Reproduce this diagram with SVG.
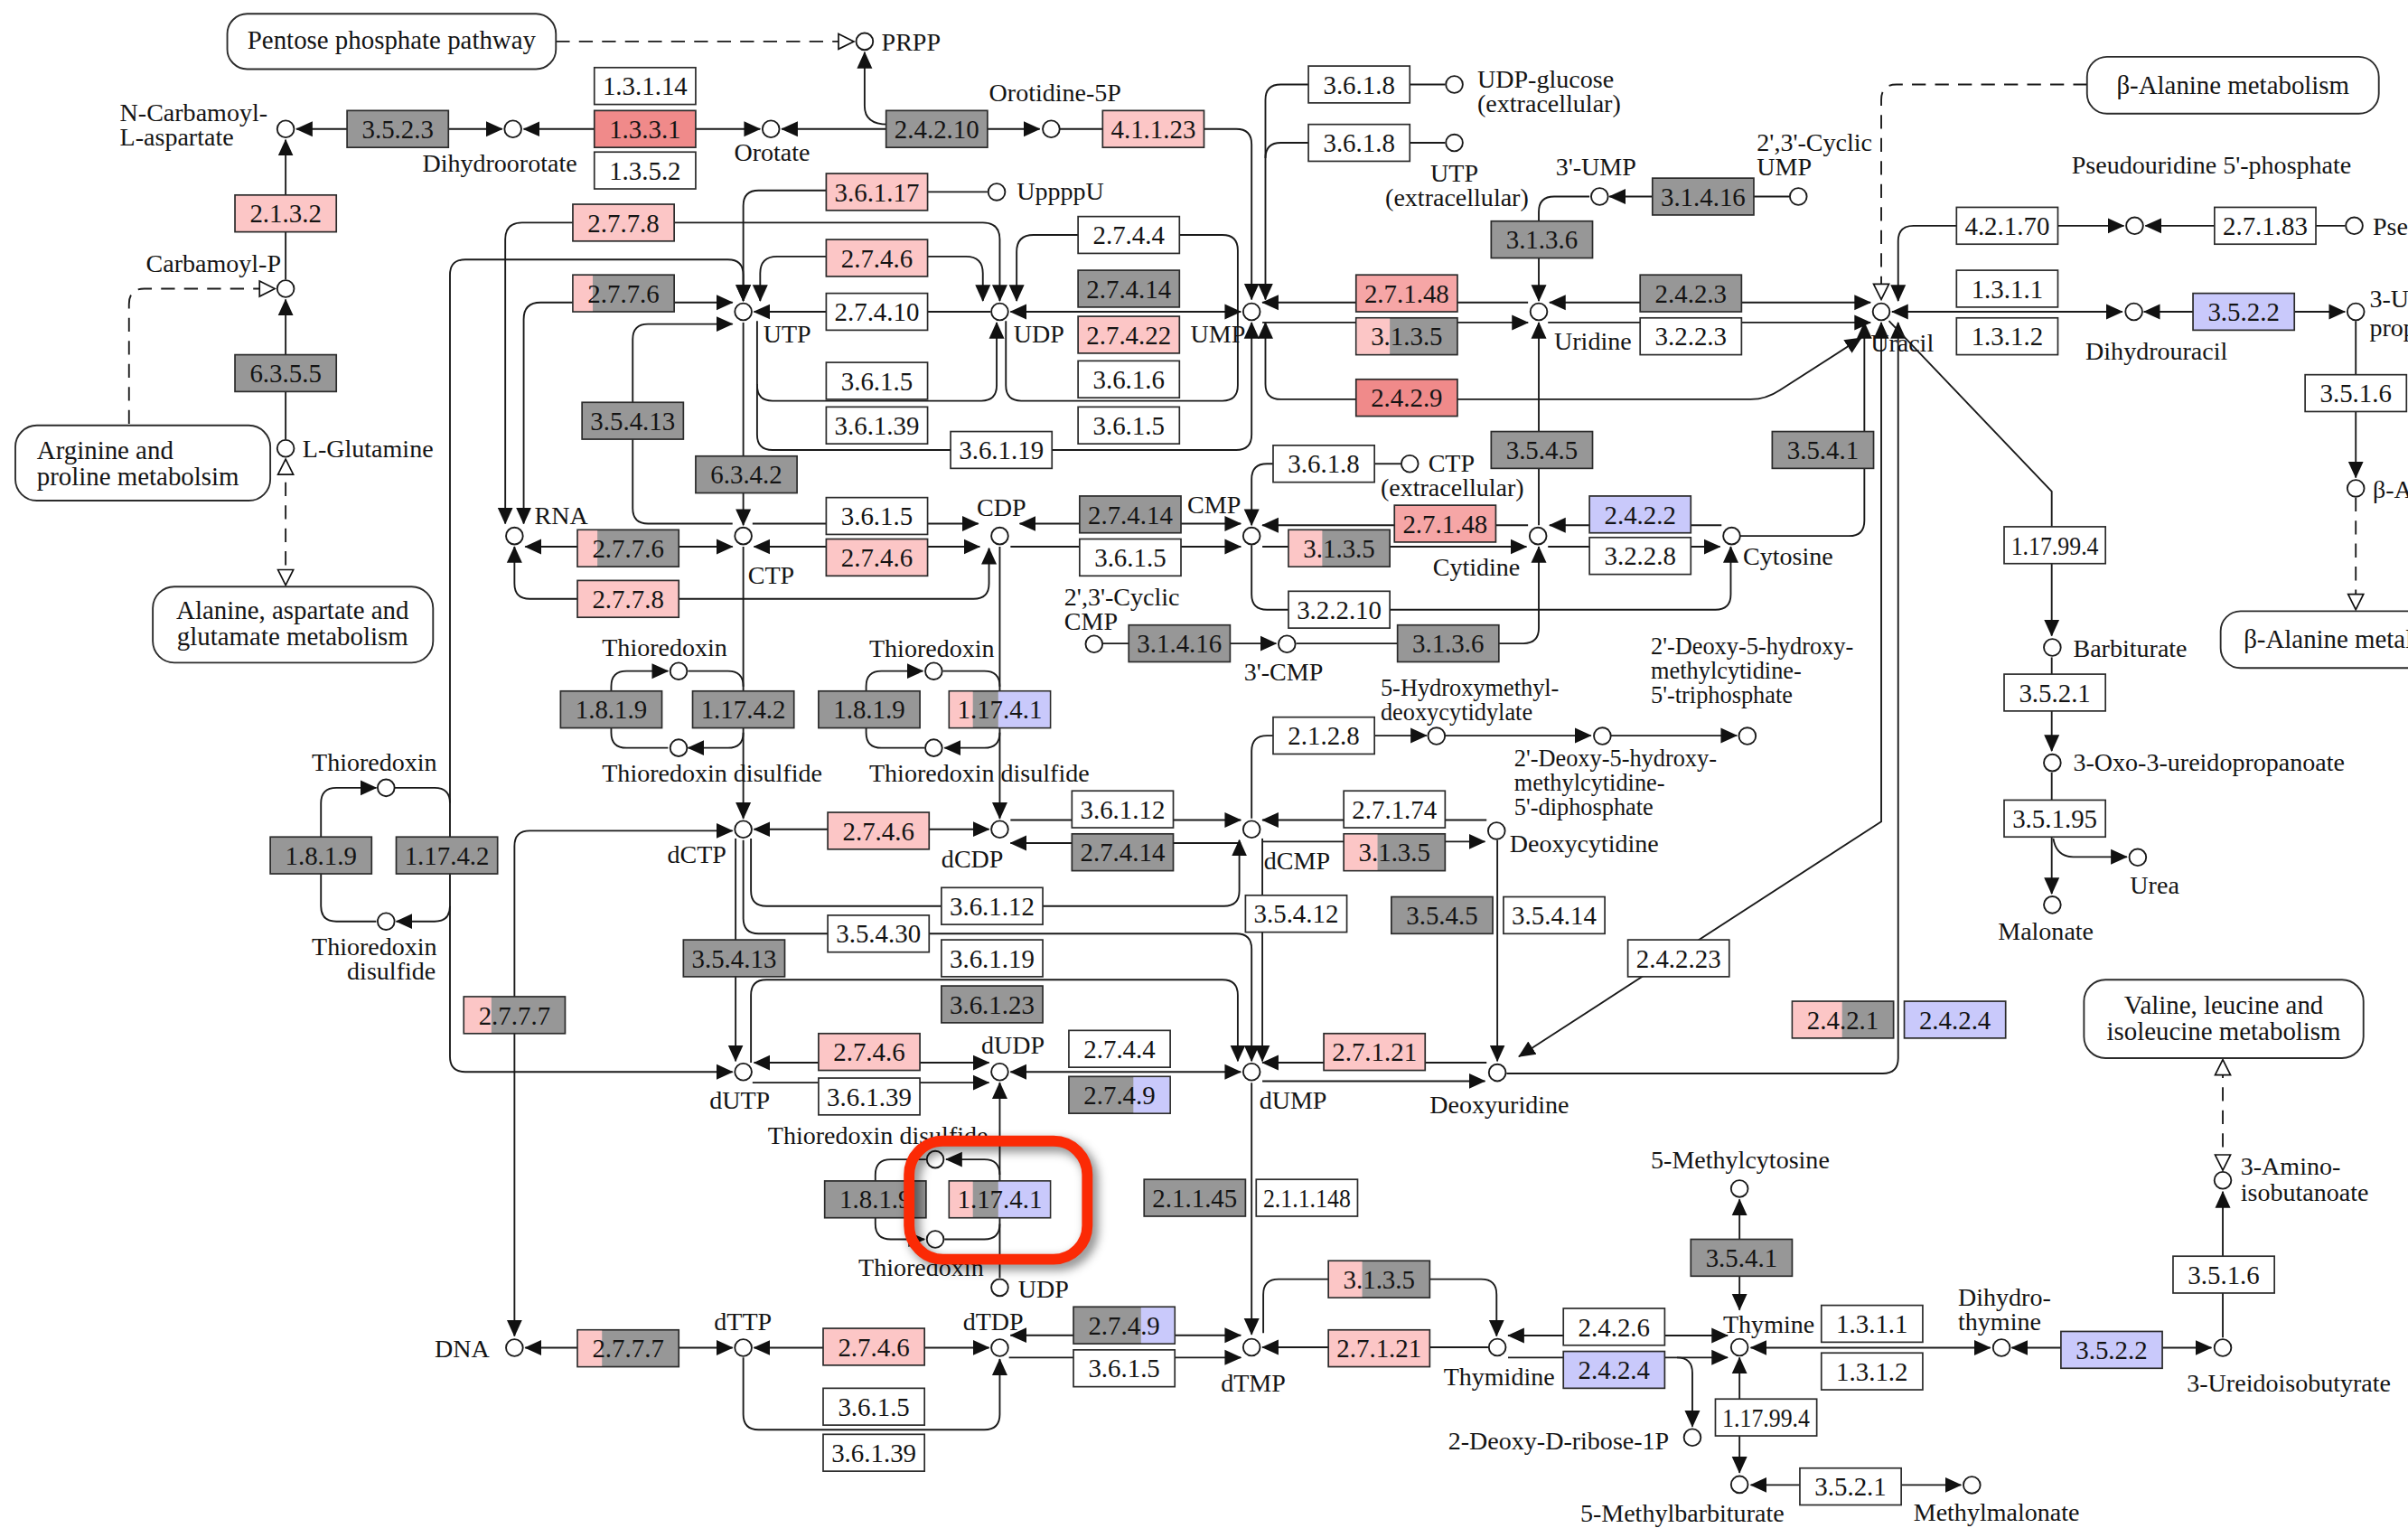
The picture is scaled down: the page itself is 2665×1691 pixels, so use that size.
<svg xmlns="http://www.w3.org/2000/svg" width="2665" height="1691" viewBox="0 0 2665 1691">
<defs>
<style>
.ln{fill:none;stroke:#1a1a1a;stroke-width:1.1}
.dl{fill:none;stroke:#1a1a1a;stroke-width:1.1;stroke-dasharray:9 6}
.enz rect{stroke:#2b2b2b;stroke-width:1}
.enz rect.s{stroke:none}
.w{fill:#fff}.g{fill:#979797}.p{fill:#fcc6c6}.r{fill:#f08a8a}.rp{fill:#f6a6a6}.b{fill:#c9c9fb}
text{font-family:"Liberation Serif","Times New Roman",serif;fill:#141414}
.enz text{font-size:17px;text-anchor:middle}
.cpd circle{fill:#fff;stroke:#1a1a1a;stroke-width:1.1}
.cpd text{font-size:16.5px}
.cpd text.t{font-size:15.5px}
.map rect{fill:#fff;stroke:#2b2b2b;stroke-width:1.1}
.map text{font-size:17px;text-anchor:middle}
.m{text-anchor:middle}.e{text-anchor:end}
</style>
<marker id="a" viewBox="0 0 11 11" refX="10.5" refY="5.5" markerWidth="11" markerHeight="11" markerUnits="userSpaceOnUse" orient="auto-start-reverse"><path d="M0,0.5 L11,5.5 L0,10.5z" fill="#111"/></marker>
<marker id="o" viewBox="0 0 12 12" refX="11" refY="6" markerWidth="12" markerHeight="12" markerUnits="userSpaceOnUse" orient="auto-start-reverse"><path d="M1,1 L11,6 L1,11z" fill="#fff" stroke="#111" stroke-width="1"/></marker>
<filter id="sh" x="-30%" y="-30%" width="160%" height="160%"><feGaussianBlur stdDeviation="3"/></filter>
</defs>
<rect x="0" y="0" width="2665" height="1691" fill="#fff"/>
<g transform="scale(1.69962,1.6995)">

<g id="connectors">
<path class="ln" d="M226,84 H193" marker-end="url(#a)"/>
<path class="ln" d="M292,84 H327" marker-end="url(#a)"/>
<path class="ln" d="M387,84 H341" marker-end="url(#a)"/>
<path class="ln" d="M453,84 H495" marker-end="url(#a)"/>
<path class="ln" d="M577,84 H509" marker-end="url(#a)"/>
<path class="ln" d="M643,84 H677" marker-end="url(#a)"/>
<path class="ln" d="M578,81 Q563,81 563,69 V34" marker-end="url(#a)"/>
<path class="ln" d="M690,84 H718"/>
<path class="ln" d="M784,84 H805 Q815,84 815,94 V195" marker-end="url(#a)"/>
<path class="dl" d="M362,27 H556" marker-end="url(#o)"/>
<path class="ln" d="M852,55 H834 Q824,55 824,65 V195" marker-end="url(#a)"/>
<path class="ln" d="M852,93 H834 Q824,93 824,103"/>
<path class="ln" d="M918,55 H941"/>
<path class="ln" d="M918,93 H941"/>
<path class="ln" d="M186,182 V91" marker-end="url(#a)"/>
<path class="ln" d="M186,286 V195" marker-end="url(#a)"/>
<path class="dl" d="M84,276 V198 Q84,188 94,188 H179" marker-end="url(#o)"/>
<path class="dl" d="M186,299 V381" marker-start="url(#o)" marker-end="url(#o)"/>
<path class="ln" d="M643,125 H604"/>
<path class="ln" d="M538,124 H494 Q484,124 484,134 V196" marker-end="url(#a)"/>
<path class="ln" d="M495,196 V178 Q495,167 506,167 H629 Q640,167 640,178 V196" marker-start="url(#a)" marker-end="url(#a)"/>
<path class="ln" d="M329,341 V156 Q329,145 340,145 H640 Q651,145 651,156 V196" marker-start="url(#a)" marker-end="url(#a)"/>
<path class="ln" d="M341,341 V208 Q341,197 352,197 H477" marker-start="url(#a)" marker-end="url(#a)"/>
<path class="ln" d="M477,341 H422 Q412,341 412,331 V221 Q412,211 422,211 H477" marker-end="url(#a)"/>
<path class="ln" d="M645,203 H491" marker-end="url(#a)"/>
<path class="ln" d="M484,210 V342" marker-end="url(#a)"/>
<path class="ln" d="M493,209 V251 Q493,261 503,261 H639 Q649,261 649,251 V210" marker-end="url(#a)"/>
<path class="ln" d="M493,250 V283 Q493,293 503,293 H805 Q815,293 815,283 V210" marker-end="url(#a)"/>
<path class="ln" d="M662,196 V164 Q662,153 673,153 H796 Q806,153 806,163 V251 Q806,261 796,261 H665 Q655,261 655,251 V209" marker-start="url(#a)"/>
<path class="ln" d="M658,203 H808" marker-start="url(#a)" marker-end="url(#a)"/>
<path class="ln" d="M824,210 V250 Q824,260 834,260 H1140 Q1150,260 1159,254 L1212,220" marker-start="url(#a)" marker-end="url(#a)"/>
<path class="ln" d="M995,197 H822" marker-end="url(#a)"/>
<path class="ln" d="M822,210 H995" marker-end="url(#a)"/>
<path class="ln" d="M1009,197 H1218" marker-start="url(#a)" marker-end="url(#a)"/>
<path class="ln" d="M1008,210 H1218" marker-end="url(#a)"/>
<path class="ln" d="M1035,128 H1012 Q1002,128 1002,138 V196" marker-end="url(#a)"/>
<path class="ln" d="M1165,128 H1048" marker-end="url(#a)"/>
<path class="ln" d="M1002,342 V210" marker-end="url(#a)"/>
<path class="ln" d="M1133,349 H1204 Q1214,349 1214,339 V210" marker-end="url(#a)"/>
<path class="ln" d="M1225,210 V535 L989,688" marker-start="url(#a)" marker-end="url(#a)"/>
<path class="ln" d="M1236,210 V689 Q1236,699 1226,699 H981" marker-start="url(#a)"/>
<path class="ln" d="M1232,203 H1382" marker-start="url(#a)" marker-end="url(#a)"/>
<path class="ln" d="M1428,203 H1396" marker-end="url(#a)"/>
<path class="ln" d="M1494,203 H1527" marker-end="url(#a)"/>
<path class="ln" d="M1534,209 V311" marker-end="url(#a)"/>
<path class="dl" d="M1534,324 V397" marker-end="url(#o)"/>
<path class="dl" d="M1359,55 H1235 Q1225,55 1225,65 V195" marker-end="url(#o)"/>
<path class="ln" d="M1383,147 H1246 Q1236,147 1236,157 V196" marker-start="url(#a)" marker-end="url(#a)"/>
<path class="ln" d="M1527,147 H1397" marker-end="url(#a)"/>
<path class="ln" d="M1230,209 L1336,320 V414" marker-end="url(#a)"/>
<path class="ln" d="M1336,428 V489" marker-end="url(#a)"/>
<path class="ln" d="M1336,503 V582" marker-end="url(#a)"/>
<path class="ln" d="M1337,546 Q1339,558 1350,558 H1385" marker-end="url(#a)"/>
<path class="ln" d="M342,356 H477" marker-start="url(#a)" marker-end="url(#a)"/>
<path class="ln" d="M335,356 V380 Q335,390 345,390 H634 Q644,390 644,380 V357" marker-start="url(#a)" marker-end="url(#a)"/>
<path class="ln" d="M490,341 H637" marker-end="url(#a)"/>
<path class="ln" d="M491,356 H638" marker-start="url(#a)" marker-end="url(#a)"/>
<path class="ln" d="M664,341 H808" marker-start="url(#a)" marker-end="url(#a)"/>
<path class="ln" d="M658,356 H808" marker-end="url(#a)"/>
<path class="ln" d="M829,302 H825 Q815,302 815,312 V342" marker-end="url(#a)"/>
<path class="ln" d="M895,302 H912"/>
<path class="ln" d="M995,342 H822" marker-end="url(#a)"/>
<path class="ln" d="M822,356 H994" marker-end="url(#a)"/>
<path class="ln" d="M1121,342 H1009" marker-end="url(#a)"/>
<path class="ln" d="M1008,356 H1120" marker-end="url(#a)"/>
<path class="ln" d="M815,355 V387 Q815,397 825,397 H1117 Q1127,397 1127,387 V356" marker-end="url(#a)"/>
<path class="ln" d="M718,419 H831" marker-end="url(#a)"/>
<path class="ln" d="M844,419 H992 Q1002,419 1002,409 V356" marker-end="url(#a)"/>
<path class="ln" d="M484,356 V533" marker-end="url(#a)"/>
<path class="ln" d="M651,356 V533" marker-end="url(#a)"/>
<path class="ln" d="M448,437 H474 Q484,437 484,447"/>
<path class="ln" d="M484,477 Q484,487 474,487 H448" marker-end="url(#a)"/>
<path class="ln" d="M435,487 H408 Q398,487 398,477 V447 Q398,437 408,437 H435" marker-end="url(#a)"/>
<path class="ln" d="M614,437 H641 Q651,437 651,447"/>
<path class="ln" d="M651,477 Q651,487 641,487 H615" marker-end="url(#a)"/>
<path class="ln" d="M602,487 H574 Q564,487 564,477 V447 Q564,437 574,437 H601" marker-end="url(#a)"/>
<path class="ln" d="M257,513 H283 Q293,513 293,523"/>
<path class="ln" d="M293,590 Q293,600 283,600 H258" marker-end="url(#a)"/>
<path class="ln" d="M245,600 H219 Q209,600 209,590 V523 Q209,513 219,513 H245" marker-end="url(#a)"/>
<path class="ln" d="M651,765 Q651,755 641,755 H616" marker-end="url(#a)"/>
<path class="ln" d="M615,807 H641 Q651,807 651,797"/>
<path class="ln" d="M603,755 H580 Q570,755 570,765 V797 Q570,807 580,807 H602" marker-end="url(#a)"/>
<path class="ln" d="M491,540 H644" marker-start="url(#a)" marker-end="url(#a)"/>
<path class="ln" d="M658,534 H808" marker-end="url(#a)"/>
<path class="ln" d="M808,549 H658" marker-end="url(#a)"/>
<path class="ln" d="M968,534 H822" marker-end="url(#a)"/>
<path class="ln" d="M822,548 H967" marker-end="url(#a)"/>
<path class="ln" d="M815,533 V489 Q815,479 825,479 H929" marker-end="url(#a)"/>
<path class="ln" d="M941,479 H1036" marker-end="url(#a)"/>
<path class="ln" d="M1049,479 H1131" marker-end="url(#a)"/>
<path class="ln" d="M975,547 V691" marker-end="url(#a)"/>
<path class="ln" d="M489,546 V580 Q489,590 499,590 H797 Q807,590 807,580 V547" marker-end="url(#a)"/>
<path class="ln" d="M484,547 V598 Q484,608 494,608 H805 Q815,608 815,618 V691" marker-end="url(#a)"/>
<path class="ln" d="M822,546 V691" marker-end="url(#a)"/>
<path class="ln" d="M479,546 V691" marker-end="url(#a)"/>
<path class="ln" d="M489,692 V648 Q489,638 499,638 H796 Q806,638 806,648 V691" marker-end="url(#a)"/>
<path class="ln" d="M484,196 V179 Q484,169 474,169 H303 Q293,169 293,179 V688 Q293,698 303,698 H477" marker-start="url(#a)" marker-end="url(#a)"/>
<path class="ln" d="M477,541 H345 Q335,541 335,551 V870" marker-start="url(#a)" marker-end="url(#a)"/>
<path class="ln" d="M342,877.6 H477" marker-start="url(#a)" marker-end="url(#a)"/>
<path class="ln" d="M491,692 H644" marker-start="url(#a)" marker-end="url(#a)"/>
<path class="ln" d="M490,705 H644" marker-end="url(#a)"/>
<path class="ln" d="M658,698 H808" marker-start="url(#a)" marker-end="url(#a)"/>
<path class="ln" d="M968,692 H822" marker-end="url(#a)"/>
<path class="ln" d="M822,704 H967" marker-end="url(#a)"/>
<path class="ln" d="M651,832 V705" marker-end="url(#a)"/>
<path class="ln" d="M815,705 V869" marker-end="url(#a)"/>
<path class="ln" d="M491,877.6 H644" marker-start="url(#a)" marker-end="url(#a)"/>
<path class="ln" d="M484,884 V921 Q484,931 494,931 H641 Q651,931 651,921 V885" marker-end="url(#a)"/>
<path class="ln" d="M658,869.5 H808" marker-start="url(#a)" marker-end="url(#a)"/>
<path class="ln" d="M657,884 H808" marker-end="url(#a)"/>
<path class="ln" d="M969,877.3 H822" marker-end="url(#a)"/>
<path class="ln" d="M822.6,868 V843 Q822.6,833 832.6,833 H964.5 Q974.5,833 974.5,843 V870" marker-end="url(#a)"/>
<path class="ln" d="M982,869.7 H1125" marker-start="url(#a)" marker-end="url(#a)"/>
<path class="ln" d="M982,884 H1125" marker-end="url(#a)"/>
<path class="ln" d="M1092,884 Q1102,884 1102,894 V929" marker-end="url(#a)"/>
<path class="ln" d="M1132.7,853 V781" marker-start="url(#a)" marker-end="url(#a)"/>
<path class="ln" d="M1132.7,884 V959" marker-start="url(#a)" marker-end="url(#a)"/>
<path class="ln" d="M1140,967 H1277" marker-start="url(#a)" marker-end="url(#a)"/>
<path class="ln" d="M1140,877.6 H1296" marker-start="url(#a)" marker-end="url(#a)"/>
<path class="ln" d="M1342,877.6 H1310" marker-end="url(#a)"/>
<path class="ln" d="M1408,877.6 H1440" marker-end="url(#a)"/>
<path class="ln" d="M1447.4,871 V776" marker-end="url(#a)"/>
<path class="dl" d="M1447.4,762 V690" marker-start="url(#o)" marker-end="url(#o)"/>
</g>

<g id="maps" class="map">
<g id="map_pentose"><rect x="148" y="9" width="214" height="36" rx="13"/><text x="255" y="32">Pentose phosphate pathway</text></g>
<g id="map_balanine1"><rect x="1359" y="37" width="190" height="37" rx="13"/><text x="1454" y="61">β-Alanine metabolism</text></g>
<g id="map_arginine"><rect x="10" y="277" width="166" height="49" rx="14"/><text x="24" y="299" style="text-anchor:start">Arginine and</text><text x="24" y="316" style="text-anchor:start">proline metabolsim</text></g>
<g id="map_alanine"><rect x="99.5" y="382" width="182.5" height="49.5" rx="14"/><text x="190.5" y="403">Alanine, aspartate and</text><text x="190.5" y="420">glutamate metabolism</text></g>
<g id="map_balanine2"><rect x="1446" y="398" width="140" height="37" rx="13"/><text x="1461" y="422" style="text-anchor:start">β-Alanine metal</text></g>
<g id="map_valine"><rect x="1357" y="638" width="182" height="51" rx="14"/><text x="1448" y="660">Valine, leucine and</text><text x="1448" y="677">isoleucine metabolism</text></g>
</g>

<g id="enzymes" class="enz">
<g id="e01"><rect class="g" x="226" y="72" width="66" height="24"/><text x="259" y="90">3.5.2.3</text></g>
<g id="e02"><rect class="w" x="387" y="44" width="66" height="24"/><text x="420" y="62">1.3.1.14</text></g>
<g id="e03"><rect class="r" x="387" y="72" width="66" height="24"/><text x="420" y="90">1.3.3.1</text></g>
<g id="e04"><rect class="w" x="387" y="99" width="66" height="24"/><text x="420" y="117">1.3.5.2</text></g>
<g id="e05"><rect class="g" x="577" y="72" width="66" height="24"/><text x="610" y="90">2.4.2.10</text></g>
<g id="e06"><rect class="p" x="718" y="72" width="66" height="24"/><text x="751" y="90">4.1.1.23</text></g>
<g id="e07"><rect class="p" x="153" y="127" width="66" height="24"/><text x="186" y="145">2.1.3.2</text></g>
<g id="e08"><rect class="g" x="153" y="231" width="66" height="24"/><text x="186" y="249">6.3.5.5</text></g>
<g id="e09"><rect class="p" x="538" y="113" width="66" height="24"/><text x="571" y="131">3.6.1.17</text></g>
<g id="e10"><rect class="p" x="373" y="133" width="66" height="24"/><text x="406" y="151">2.7.7.8</text></g>
<g id="e11"><rect class="g" x="373" y="179" width="66" height="24"/><rect class="p s" x="373.5" y="179.5" width="12.5" height="23"/><text x="406" y="197">2.7.7.6</text></g>
<g id="e12"><rect class="p" x="538" y="156" width="66" height="24"/><text x="571" y="174">2.7.4.6</text></g>
<g id="e13"><rect class="w" x="538" y="191" width="66" height="24"/><text x="571" y="209">2.7.4.10</text></g>
<g id="e14"><rect class="w" x="702" y="141" width="66" height="24"/><text x="735" y="159">2.7.4.4</text></g>
<g id="e15"><rect class="g" x="702" y="176" width="66" height="24"/><text x="735" y="194">2.7.4.14</text></g>
<g id="e16"><rect class="p" x="702" y="206" width="66" height="24"/><text x="735" y="224">2.7.4.22</text></g>
<g id="e17"><rect class="w" x="538" y="236" width="66" height="24"/><text x="571" y="254">3.6.1.5</text></g>
<g id="e18"><rect class="w" x="538" y="265" width="66" height="24"/><text x="571" y="283">3.6.1.39</text></g>
<g id="e19"><rect class="w" x="702" y="235" width="66" height="24"/><text x="735" y="253">3.6.1.6</text></g>
<g id="e20"><rect class="w" x="702" y="265" width="66" height="24"/><text x="735" y="283">3.6.1.5</text></g>
<g id="e21"><rect class="w" x="619" y="281" width="66" height="24"/><text x="652" y="299">3.6.1.19</text></g>
<g id="e22"><rect class="g" x="379" y="262" width="66" height="24"/><text x="412" y="280">3.5.4.13</text></g>
<g id="e23"><rect class="g" x="453" y="297" width="66" height="24"/><text x="486" y="315">6.3.4.2</text></g>
<g id="e24"><rect class="w" x="852" y="43" width="66" height="24"/><text x="885" y="61">3.6.1.8</text></g>
<g id="e25"><rect class="w" x="852" y="81" width="66" height="24"/><text x="885" y="99">3.6.1.8</text></g>
<g id="e26"><rect class="g" x="971" y="144" width="66" height="24"/><text x="1004" y="162">3.1.3.6</text></g>
<g id="e27"><rect class="g" x="1076" y="116" width="66" height="24"/><text x="1109" y="134">3.1.4.16</text></g>
<g id="e28"><rect class="rp" x="883" y="179" width="66" height="24"/><text x="916" y="197">2.7.1.48</text></g>
<g id="e29"><rect class="g" x="883" y="207" width="66" height="24"/><rect class="p s" x="883.5" y="207.5" width="21.5" height="23"/><text x="916" y="225">3.1.3.5</text></g>
<g id="e30"><rect class="g" x="1068" y="179" width="66" height="24"/><text x="1101" y="197">2.4.2.3</text></g>
<g id="e31"><rect class="w" x="1068" y="207" width="66" height="24"/><text x="1101" y="225">3.2.2.3</text></g>
<g id="e32"><rect class="r" x="883" y="247" width="66" height="24"/><text x="916" y="265">2.4.2.9</text></g>
<g id="e33"><rect class="g" x="971" y="281" width="66" height="24"/><text x="1004" y="299">3.5.4.5</text></g>
<g id="e34"><rect class="g" x="1154" y="281" width="66" height="24"/><text x="1187" y="299">3.5.4.1</text></g>
<g id="e35"><rect class="w" x="1274" y="135" width="66" height="24"/><text x="1307" y="153">4.2.1.70</text></g>
<g id="e36"><rect class="w" x="1442" y="135" width="66" height="24"/><text x="1475" y="153">2.7.1.83</text></g>
<g id="e37"><rect class="w" x="1274" y="176" width="66" height="24"/><text x="1307" y="194">1.3.1.1</text></g>
<g id="e38"><rect class="w" x="1274" y="207" width="66" height="24"/><text x="1307" y="225">1.3.1.2</text></g>
<g id="e39"><rect class="b" x="1428" y="191" width="66" height="24"/><text x="1461" y="209">3.5.2.2</text></g>
<g id="e40"><rect class="w" x="1501" y="244" width="66" height="24"/><text x="1534" y="262">3.5.1.6</text></g>
<g id="e41"><rect class="g" x="376" y="345" width="66" height="24"/><rect class="p s" x="376.5" y="345.5" width="12.5" height="23"/><text x="409" y="363">2.7.7.6</text></g>
<g id="e42"><rect class="p" x="376" y="378" width="66" height="24"/><text x="409" y="396">2.7.7.8</text></g>
<g id="e43"><rect class="w" x="538" y="324" width="66" height="24"/><text x="571" y="342">3.6.1.5</text></g>
<g id="e44"><rect class="p" x="538" y="351" width="66" height="24"/><text x="571" y="369">2.7.4.6</text></g>
<g id="e45"><rect class="g" x="703" y="323" width="66" height="24"/><text x="736" y="341">2.7.4.14</text></g>
<g id="e46"><rect class="w" x="703" y="351" width="66" height="24"/><text x="736" y="369">3.6.1.5</text></g>
<g id="e47"><rect class="w" x="829" y="290" width="66" height="24"/><text x="862" y="308">3.6.1.8</text></g>
<g id="e48"><rect class="rp" x="908" y="329" width="66" height="24"/><text x="941" y="347">2.7.1.48</text></g>
<g id="e49"><rect class="g" x="839" y="345" width="66" height="24"/><rect class="p s" x="839.5" y="345.5" width="21.5" height="23"/><text x="872" y="363">3.1.3.5</text></g>
<g id="e50"><rect class="b" x="1035" y="323" width="66" height="24"/><text x="1068" y="341">2.4.2.2</text></g>
<g id="e51"><rect class="w" x="1035" y="350" width="66" height="24"/><text x="1068" y="368">3.2.2.8</text></g>
<g id="e52"><rect class="w" x="839" y="385" width="66" height="24"/><text x="872" y="403">3.2.2.10</text></g>
<g id="e53"><rect class="g" x="735" y="407" width="66" height="24"/><text x="768" y="425">3.1.4.16</text></g>
<g id="e54"><rect class="g" x="910" y="407" width="66" height="24"/><text x="943" y="425">3.1.3.6</text></g>
<g id="e55"><rect class="g" x="365" y="450" width="66" height="24"/><text x="398" y="468">1.8.1.9</text></g>
<g id="e56"><rect class="g" x="451" y="450" width="66" height="24"/><text x="484" y="468">1.17.4.2</text></g>
<g id="e57"><rect class="g" x="533" y="450" width="66" height="24"/><text x="566" y="468">1.8.1.9</text></g>
<g id="e58"><rect class="g" x="618" y="450" width="66" height="24"/><rect class="p s" x="618.5" y="450.5" width="15" height="23"/><rect class="b s" x="650" y="450.5" width="33.5" height="23"/><text x="651" y="468">1.17.4.1</text></g>
<g id="e59"><rect class="g" x="176" y="545" width="66" height="24"/><text x="209" y="563">1.8.1.9</text></g>
<g id="e60"><rect class="g" x="258" y="545" width="66" height="24"/><text x="291" y="563">1.17.4.2</text></g>
<g id="e61"><rect class="p" x="539" y="529" width="66" height="24"/><text x="572" y="547">2.7.4.6</text></g>
<g id="e62"><rect class="w" x="698" y="515" width="66" height="24"/><text x="731" y="533">3.6.1.12</text></g>
<g id="e63"><rect class="g" x="698" y="543" width="66" height="24"/><text x="731" y="561">2.7.4.14</text></g>
<g id="e64"><rect class="w" x="829" y="467" width="66" height="24"/><text x="862" y="485">2.1.2.8</text></g>
<g id="e65"><rect class="w" x="875" y="515" width="66" height="24"/><text x="908" y="533">2.7.1.74</text></g>
<g id="e66"><rect class="g" x="875" y="543" width="66" height="24"/><rect class="p s" x="875.5" y="543.5" width="21.5" height="23"/><text x="908" y="561">3.1.3.5</text></g>
<g id="e67"><rect class="w" x="613" y="578" width="66" height="24"/><text x="646" y="596">3.6.1.12</text></g>
<g id="e68"><rect class="w" x="539" y="596" width="66" height="24"/><text x="572" y="614">3.5.4.30</text></g>
<g id="e69"><rect class="w" x="811" y="583" width="66" height="24"/><text x="844" y="601">3.5.4.12</text></g>
<g id="e70"><rect class="g" x="906" y="584" width="66" height="24"/><text x="939" y="602">3.5.4.5</text></g>
<g id="e71"><rect class="w" x="979" y="584" width="66" height="24"/><text x="1012" y="602">3.5.4.14</text></g>
<g id="e72"><rect class="g" x="445" y="612" width="66" height="24"/><text x="478" y="630">3.5.4.13</text></g>
<g id="e73"><rect class="w" x="613" y="612" width="66" height="24"/><text x="646" y="630">3.6.1.19</text></g>
<g id="e74"><rect class="g" x="613" y="642" width="66" height="24"/><text x="646" y="660">3.6.1.23</text></g>
<g id="e75"><rect class="w" x="1060" y="612" width="66" height="24"/><text x="1093" y="630">2.4.2.23</text></g>
<g id="e76"><rect class="g" x="302" y="649" width="66" height="24"/><rect class="p s" x="302.5" y="649.5" width="17.5" height="23"/><text x="335" y="667">2.7.7.7</text></g>
<g id="e77"><rect class="g" x="1167" y="652" width="66" height="24"/><rect class="p s" x="1167.5" y="652.5" width="32" height="23"/><text x="1200" y="670">2.4.2.1</text></g>
<g id="e78"><rect class="b" x="1240" y="652" width="66" height="24"/><text x="1273" y="670">2.4.2.4</text></g>
<g id="e79"><rect class="w" x="1305" y="343" width="66" height="24"/><text x="1338" y="361" textLength="57" lengthAdjust="spacingAndGlyphs">1.17.99.4</text></g>
<g id="e80"><rect class="w" x="1305" y="439" width="66" height="24"/><text x="1338" y="457">3.5.2.1</text></g>
<g id="e81"><rect class="w" x="1305" y="521" width="66" height="24"/><text x="1338" y="539">3.5.1.95</text></g>
<g id="e82"><rect class="p" x="533" y="673" width="66" height="24"/><text x="566" y="691">2.7.4.6</text></g>
<g id="e83"><rect class="w" x="533" y="702" width="66" height="24"/><text x="566" y="720">3.6.1.39</text></g>
<g id="e84"><rect class="w" x="696" y="671" width="66" height="24"/><text x="729" y="689">2.7.4.4</text></g>
<g id="e85"><rect class="g" x="696" y="701" width="66" height="24"/><rect class="b s" x="738" y="701.5" width="23.5" height="23"/><text x="729" y="719">2.7.4.9</text></g>
<g id="e86"><rect class="p" x="862" y="673" width="66" height="24"/><text x="895" y="691">2.7.1.21</text></g>
<g id="e87"><rect class="g" x="537" y="769" width="66" height="24"/><text x="570" y="787">1.8.1.9</text></g>
<g id="e88"><rect class="g" x="618" y="769" width="66" height="24"/><rect class="p s" x="618.5" y="769.5" width="15" height="23"/><rect class="b s" x="650" y="769.5" width="33.5" height="23"/><text x="651" y="787">1.17.4.1</text></g>
<g id="e89"><rect class="g" x="745" y="768" width="66" height="24"/><text x="778" y="786">2.1.1.45</text></g>
<g id="e90"><rect class="w" x="818" y="768" width="66" height="24"/><text x="851" y="786" textLength="57" lengthAdjust="spacingAndGlyphs">2.1.1.148</text></g>
<g id="e91"><rect class="g" x="376" y="866" width="66" height="24"/><rect class="p s" x="376.5" y="866.5" width="15.5" height="23"/><text x="409" y="884">2.7.7.7</text></g>
<g id="e92"><rect class="p" x="536" y="865" width="66" height="24"/><text x="569" y="883">2.7.4.6</text></g>
<g id="e93"><rect class="w" x="536" y="904" width="66" height="24"/><text x="569" y="922">3.6.1.5</text></g>
<g id="e94"><rect class="w" x="536" y="934" width="66" height="24"/><text x="569" y="952">3.6.1.39</text></g>
<g id="e95"><rect class="g" x="699" y="851" width="66" height="24"/><rect class="b s" x="743" y="851.5" width="21.5" height="23"/><text x="732" y="869">2.7.4.9</text></g>
<g id="e96"><rect class="w" x="699" y="879" width="66" height="24"/><text x="732" y="897">3.6.1.5</text></g>
<g id="e97"><rect class="g" x="865" y="821" width="66" height="24"/><rect class="p s" x="865.5" y="821.5" width="21.5" height="23"/><text x="898" y="839">3.1.3.5</text></g>
<g id="e98"><rect class="p" x="865" y="866" width="66" height="24"/><text x="898" y="884">2.7.1.21</text></g>
<g id="e99"><rect class="w" x="1018" y="852" width="66" height="24"/><text x="1051" y="870">2.4.2.6</text></g>
<g id="e100"><rect class="b" x="1018" y="880" width="66" height="24"/><text x="1051" y="898">2.4.2.4</text></g>
<g id="e101"><rect class="g" x="1101" y="807" width="66" height="24"/><text x="1134" y="825">3.5.4.1</text></g>
<g id="e102"><rect class="w" x="1117" y="911" width="66" height="24"/><text x="1150" y="929" textLength="57" lengthAdjust="spacingAndGlyphs">1.17.99.4</text></g>
<g id="e103"><rect class="w" x="1172" y="956" width="66" height="24"/><text x="1205" y="974">3.5.2.1</text></g>
<g id="e104"><rect class="w" x="1186" y="850" width="66" height="24"/><text x="1219" y="868">1.3.1.1</text></g>
<g id="e105"><rect class="w" x="1186" y="881" width="66" height="24"/><text x="1219" y="899">1.3.1.2</text></g>
<g id="e106"><rect class="b" x="1342" y="867" width="66" height="24"/><text x="1375" y="885">3.5.2.2</text></g>
<g id="e107"><rect class="w" x="1415" y="818" width="66" height="24"/><text x="1448" y="836">3.5.1.6</text></g>
</g>

<g id="compounds" class="cpd">
<g id="c_ncarbasp"><circle cx="186" cy="84" r="5.5"/><text x="78" y="79">N-Carbamoyl-</text><text x="78" y="95">L-aspartate</text></g>
<g id="c_dihydroorotate"><circle cx="334" cy="84" r="5.5"/><text x="275" y="112">Dihydroorotate</text></g>
<g id="c_orotate"><circle cx="502" cy="84" r="5.5"/><text x="478" y="105">Orotate</text></g>
<g id="c_prpp"><circle cx="563" cy="27" r="5.5"/><text x="574" y="33">PRPP</text></g>
<g id="c_orotidine"><circle cx="684.5" cy="84" r="5.5"/><text x="644" y="66">Orotidine-5P</text></g>
<g id="c_carbp"><circle cx="186" cy="188" r="5.5"/><text class="e" x="183" y="177">Carbamoyl-P</text></g>
<g id="c_gln"><circle cx="186" cy="292" r="5.5"/><text x="197" y="298">L-Glutamine</text></g>
<g id="c_uppppu"><circle cx="649" cy="125" r="5.5"/><text x="662" y="130">UppppU</text></g>
<g id="c_utp"><circle cx="484" cy="203" r="5.5"/><text x="497" y="223">UTP</text></g>
<g id="c_udp"><circle cx="651" cy="203" r="5.5"/><text x="660" y="223">UDP</text></g>
<g id="c_ump"><circle cx="815" cy="203" r="5.5"/><text class="e" x="811" y="223">UMP</text></g>
<g id="c_udpglc"><circle cx="947" cy="55" r="5.5"/><text x="962" y="57">UDP-glucose</text><text x="962" y="73">(extracellular)</text></g>
<g id="c_utpext"><circle cx="947" cy="93" r="5.5"/><text class="m" x="947" y="118">UTP</text><text x="902" y="134">(extracellular)</text></g>
<g id="c_3ump"><circle cx="1041.6" cy="128" r="5.5"/><text x="1013" y="114">3'-UMP</text></g>
<g id="c_cump"><circle cx="1171" cy="128" r="5.5"/><text x="1144" y="98">2',3'-Cyclic</text><text x="1144" y="114">UMP</text></g>
<g id="c_uridine"><circle cx="1002" cy="203" r="5.5"/><text x="1012" y="228">Uridine</text></g>
<g id="c_uracil"><circle cx="1225" cy="203" r="5.5"/><text x="1218" y="229">Uracil</text></g>
<g id="c_psu5p"><circle cx="1390" cy="147" r="5.5"/><text x="1349" y="113">Pseudouridine 5'-phosphate</text></g>
<g id="c_pse"><circle cx="1533" cy="147" r="5.5"/><text x="1545" y="153">Pse</text></g>
<g id="c_dihydrouracil"><circle cx="1389.5" cy="203" r="5.5"/><text x="1358" y="234">Dihydrouracil</text></g>
<g id="c_3ureidoprop"><circle cx="1534" cy="203" r="5.5"/><text x="1543" y="200">3-U</text><text x="1543" y="219">prop</text></g>
<g id="c_bala"><circle cx="1534" cy="318" r="5.5"/><text x="1545" y="324">β-A</text></g>
<g id="c_rna"><circle cx="335" cy="349" r="5.5"/><text x="348" y="341">RNA</text></g>
<g id="c_ctp"><circle cx="484" cy="349" r="5.5"/><text x="487" y="380">CTP</text></g>
<g id="c_cdp"><circle cx="651" cy="349" r="5.5"/><text x="636" y="336">CDP</text></g>
<g id="c_cmp"><circle cx="815" cy="349" r="5.5"/><text class="e" x="808" y="334">CMP</text></g>
<g id="c_ctpext"><circle cx="918" cy="302" r="5.5"/><text x="930" y="307">CTP</text><text x="899" y="323">(extracellular)</text></g>
<g id="c_cytidine"><circle cx="1001.5" cy="349" r="5.5"/><text x="933" y="375">Cytidine</text></g>
<g id="c_cytosine"><circle cx="1127.6" cy="349" r="5.5"/><text x="1135" y="368">Cytosine</text></g>
<g id="c_ccmp"><circle cx="712.4" cy="419.4" r="5.5"/><text x="693" y="394">2',3'-Cyclic</text><text x="693" y="410">CMP</text></g>
<g id="c_3cmp"><circle cx="838" cy="419.4" r="5.5"/><text x="810" y="443">3'-CMP</text></g>
<g id="c_trx1"><circle cx="441.9" cy="437" r="5.5"/><text x="392" y="427">Thioredoxin</text></g>
<g id="c_trxss1"><circle cx="441.9" cy="487" r="5.5"/><text x="392" y="509">Thioredoxin disulfide</text></g>
<g id="c_trx2"><circle cx="608" cy="437" r="5.5"/><text x="566" y="428">Thioredoxin</text></g>
<g id="c_trxss2"><circle cx="608" cy="487" r="5.5"/><text x="566" y="509">Thioredoxin disulfide</text></g>
<g id="c_trx3"><circle cx="251.4" cy="513" r="5.5"/><text x="203" y="502">Thioredoxin</text></g>
<g id="c_trxss3"><circle cx="251.4" cy="600" r="5.5"/><text x="203" y="622">Thioredoxin</text><text x="226" y="638">disulfide</text></g>
<g id="c_hmdcmp"><circle cx="935.4" cy="479.3" r="5.5"/><text class="t" x="899" y="453">5-Hydroxymethyl-</text><text class="t" x="899" y="469">deoxycytidylate</text></g>
<g id="c_hmdcdp"><circle cx="1043.4" cy="479.3" r="5.5"/><text class="t" x="986" y="499">2'-Deoxy-5-hydroxy-</text><text class="t" x="986" y="515">methylcytidine-</text><text class="t" x="986" y="531">5'-diphosphate</text></g>
<g id="c_hmdctp"><circle cx="1137.8" cy="479.3" r="5.5"/><text class="t" x="1075" y="426">2'-Deoxy-5-hydroxy-</text><text class="t" x="1075" y="442">methylcytidine-</text><text class="t" x="1075" y="458">5'-triphosphate</text></g>
<g id="c_barbiturate"><circle cx="1336.4" cy="421.6" r="5.5"/><text x="1350" y="428">Barbiturate</text></g>
<g id="c_oxoureido"><circle cx="1336.4" cy="496.7" r="5.5"/><text x="1350" y="502">3-Oxo-3-ureidopropanoate</text></g>
<g id="c_malonate"><circle cx="1336.4" cy="589.2" r="5.5"/><text x="1301" y="612">Malonate</text></g>
<g id="c_urea"><circle cx="1392" cy="558.3" r="5.5"/><text x="1387" y="582">Urea</text></g>
<g id="c_dctp"><circle cx="484" cy="540" r="5.5"/><text class="e" x="473" y="562">dCTP</text></g>
<g id="c_dcdp"><circle cx="651" cy="540" r="5.5"/><text x="613" y="565">dCDP</text></g>
<g id="c_dcmp"><circle cx="815" cy="540" r="5.5"/><text x="823" y="566">dCMP</text></g>
<g id="c_deoxycytidine"><circle cx="974.5" cy="541" r="5.5"/><text x="983" y="555">Deoxycytidine</text></g>
<g id="c_dutp"><circle cx="484" cy="698" r="5.5"/><text x="462" y="722">dUTP</text></g>
<g id="c_dudp"><circle cx="651" cy="698" r="5.5"/><text x="639" y="686">dUDP</text></g>
<g id="c_dump"><circle cx="815" cy="698" r="5.5"/><text x="820" y="722">dUMP</text></g>
<g id="c_deoxyuridine"><circle cx="975" cy="698.5" r="5.5"/><text x="931" y="725">Deoxyuridine</text></g>
<g id="c_trxss4"><circle cx="609" cy="755" r="5.5"/><text x="500" y="745">Thioredoxin disulfide</text></g>
<g id="c_trx4"><circle cx="609" cy="807" r="5.5"/><text x="559" y="831">Thioredoxin</text></g>
<g id="c_udp2"><circle cx="651" cy="838.4" r="5.5"/><text x="663" y="845">UDP</text></g>
<g id="c_dna"><circle cx="335" cy="877.6" r="5.5"/><text x="283" y="884">DNA</text></g>
<g id="c_dttp"><circle cx="484" cy="877.6" r="5.5"/><text x="465" y="866">dTTP</text></g>
<g id="c_dtdp"><circle cx="651" cy="877.6" r="5.5"/><text x="627" y="866">dTDP</text></g>
<g id="c_dtmp"><circle cx="815" cy="877.3" r="5.5"/><text x="795" y="906">dTMP</text></g>
<g id="c_thymidine"><circle cx="975" cy="877.3" r="5.5"/><text x="940" y="902">Thymidine</text></g>
<g id="c_thymine"><circle cx="1132.7" cy="877.3" r="5.5"/><text x="1122" y="868">Thymine</text></g>
<g id="c_5mecyt"><circle cx="1132.7" cy="774" r="5.5"/><text x="1075" y="761">5-Methylcytosine</text></g>
<g id="c_dr1p"><circle cx="1102" cy="936" r="5.5"/><text x="943" y="944">2-Deoxy-D-ribose-1P</text></g>
<g id="c_5mebarb"><circle cx="1132.7" cy="966.7" r="5.5"/><text x="1029" y="991">5-Methylbarbiturate</text></g>
<g id="c_memalonate"><circle cx="1284" cy="967" r="5.5"/><text x="1246" y="990">Methylmalonate</text></g>
<g id="c_dihydrothymine"><circle cx="1303.3" cy="877.6" r="5.5"/><text x="1275" y="850">Dihydro-</text><text x="1275" y="866">thymine</text></g>
<g id="c_ureidoisobut"><circle cx="1447.4" cy="877.6" r="5.5"/><text x="1424" y="906">3-Ureidoisobutyrate</text></g>
<g id="c_aminoisobut"><circle cx="1447.4" cy="768.6" r="5.5"/><text x="1459" y="765">3-Amino-</text><text x="1459" y="782">isobutanoate</text></g>
</g>

<g id="highlight">
<rect x="595" y="746" width="116" height="77" rx="22" fill="none" stroke="#000" stroke-opacity="0.45" stroke-width="8" filter="url(#sh)"/>
<rect x="592" y="743" width="116" height="77" rx="22" fill="none" stroke="#fb2a05" stroke-width="7"/>
</g>
</g>
</svg>
